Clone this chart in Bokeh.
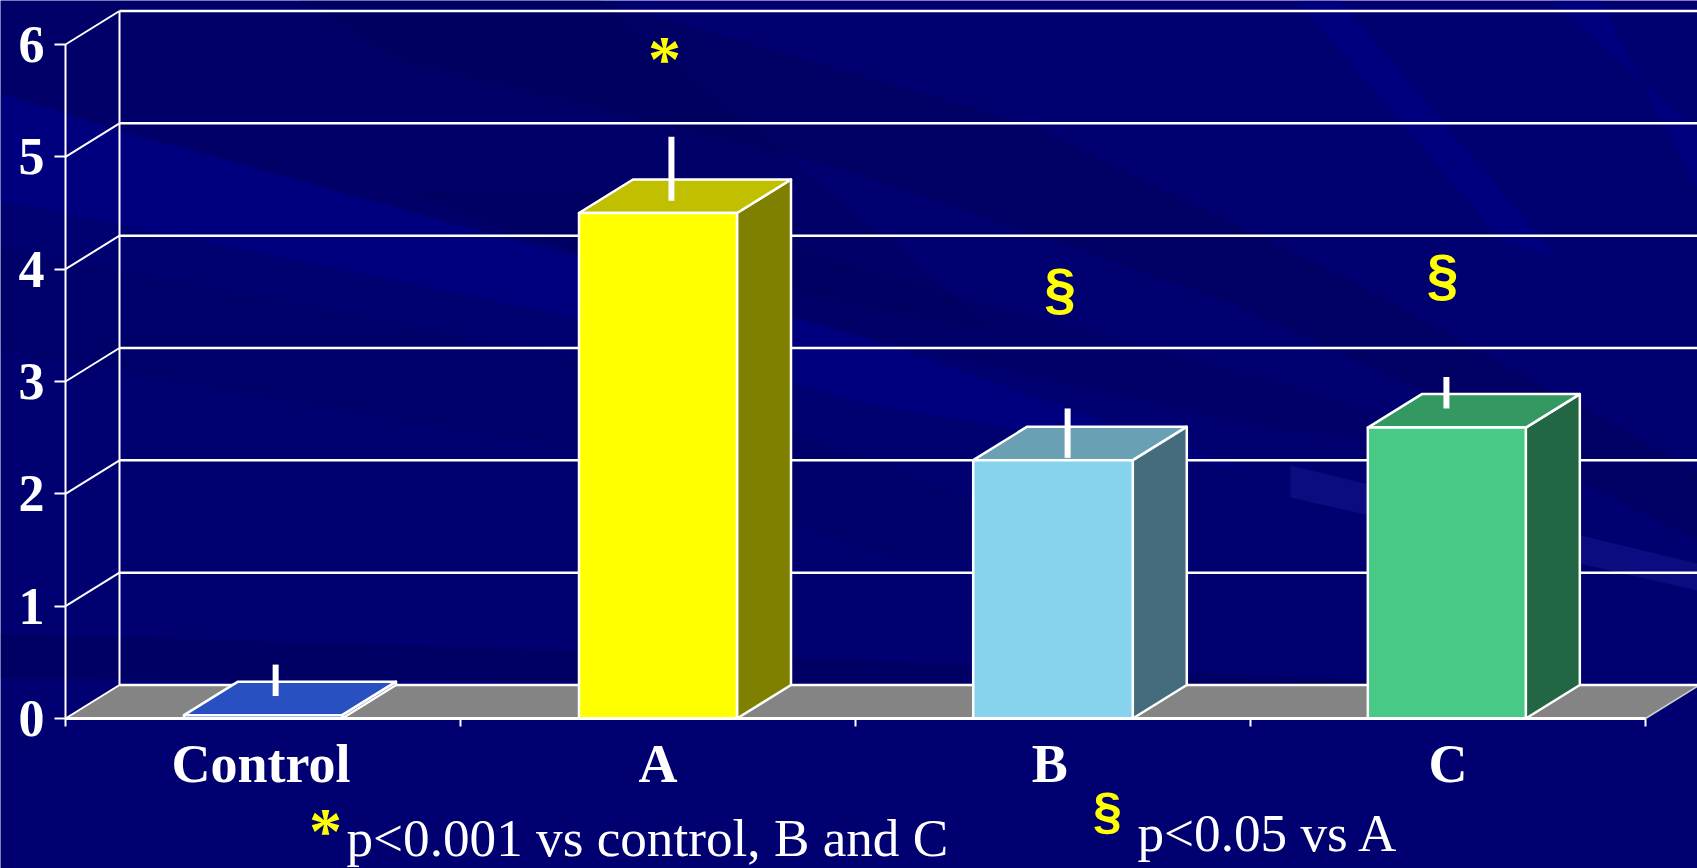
import numpy as np
from bokeh.core.properties import value
from bokeh.embed import file_html
from bokeh.models import ColumnDataSource, FixedTicker, LinearAxis, Range1d
from bokeh.plotting import figure
from bokeh.resources import INLINE

# ---- chart data
categories = ["Control", "A", "B", "C"]
means = [0.03, 4.50, 2.30, 2.59]
err_low = [0.20, 4.61, 2.32, 2.76]
err_high = [0.48, 5.18, 2.76, 3.04]
y_ticks = [0, 1, 2, 3, 4, 5, 6]
front_colors = ["#3366FF", "#FFFF00", "#87D3EE", "#48CA86"]
top_colors = ["#2850C0", "#C0C000", "#69A0B3", "#349863"]
side_colors = ["#1A3380", "#808000", "#456C7C", "#226644"]
note_main = "p<0.001 vs control, B and C"
note_second = "p<0.05 vs A"

# ---- layout
W, H = 1697, 868
X0, Y0 = 65.0, 718.0        # pixel of origin
UX, UY = 395.0, 112.33      # pixels per category / per value
DX, DY = 54 / UX, 33.5 / UY  # 3-D depth in data units
bar_width = [0.40, 0.40, 0.404, 0.40]
bar_center = [0.5, 1.5, 2.5, 3.497]
label_pos = [0.495, 1.5, 2.492, 3.5]
err_x = [0.532, 1.534, 2.537, 3.496]

p = figure(width=W, height=H, output_backend="svg", toolbar_location=None,
           x_axis_type=None, y_axis_type=None,
           x_range=Range1d(-X0 / UX, (W - X0) / UX),
           y_range=Range1d((Y0 - H) / UY, Y0 / UY),
           min_border=0, outline_line_color=None,
           background_fill_color="#000070", border_fill_color="#000070")
p.styles = {"position": "fixed", "left": "0px", "top": "0px"}
p.extra_x_ranges = {"px": Range1d(0, W)}
p.extra_y_ranges = {"px": Range1d(H, 0)}

# ---- slide background (decoration, in page pixels)
nx, ny = 170, 87
gx, gy = np.meshgrid(np.linspace(0, 1, nx), np.linspace(0, 1, ny))
blue = (0x62 * (1 - gx) * (1 - gy) + 0x88 * gx * (1 - gy)
        + 0x82 * (1 - gx) * gy + 0x9A * gx * gy)
img = np.zeros((ny, nx), dtype=np.uint32)
img[:] = (255 << 24) | (blue.astype(np.uint32) << 16)
p.image_rgba(image=[img[::-1]], x=-10, y=H + 10, dw=W + 20, dh=H + 20,
             x_range_name="px", y_range_name="px")

dark = "#00004A"
bright = "#0000A8"
pale = "#3030B0"
bands = [
    ([0, 600, 1000, 488, 119, 0], [0, 0, 333, 233, 130, 93], dark, 0.18),
    ([0, 119, 488, 850, 1250, 850, 575, 0], [93, 130, 233, 333, 470, 400, 317, 200], bright, 0.28),
    ([0, 575, 900, 1100, 900, 579, 0], [247, 357, 470, 560, 560, 450, 350], dark, 0.15),
    ([600, 1026, 1350, 1697, 1697, 1560, 1443, 1226, 847, 400, 300],
     [0, 123, 280, 470, 540, 470, 400, 300, 170, 60, 0], dark, 0.28),
    ([600, 847, 1010, 1280, 1500, 1280, 1064, 847, 600, 400],
     [190, 263, 310, 383, 450, 430, 383, 333, 260, 190], dark, 0.20),
    ([1297, 1340, 1560, 1500], [0, 0, 260, 240], bright, 0.25),
    ([1551, 1600, 1697, 1697], [0, 0, 190, 130], bright, 0.25),
    ([1290, 1697, 1697, 1290], [465, 563, 590, 497], pale, 0.25),
    ([0, 575, 1000, 1400, 1400, 0], [633, 650, 665, 680, 684, 678], dark, 0.30),
]
for xs, ys, col, a in bands:
    p.patch(xs, ys, fill_color=col, fill_alpha=a, line_color=None,
            x_range_name="px", y_range_name="px")

WHITE = "#FFFFFF"

# ---- floor and back wall
p.patch([0, 4, 4 + DX, DX], [0, 0, DY, DY], fill_color="#848484", line_color=None)
p.segment([4], [0], [4 + DX], [DY], line_color="#D0D0D0", line_width=1.5)
p.segment([DX] * len(y_ticks), [v + DY for v in y_ticks],
          [(W - X0) / UX] * len(y_ticks), [v + DY for v in y_ticks],
          line_color=WHITE, line_width=2.5)
p.segment([0] * len(y_ticks), y_ticks, [DX] * len(y_ticks), [v + DY for v in y_ticks],
          line_color=WHITE, line_width=2)
p.segment([DX], [DY], [DX], [6 + DY], line_color=WHITE, line_width=2)

# ---- 3-D bars
for c, w, v, fc, tc, sc in zip(bar_center, bar_width, means, front_colors, top_colors, side_colors):
    l, r = c - w / 2, c + w / 2
    p.patch([r, r + DX, r + DX, r], [0, DY, v + DY, v], fill_color=sc,
            line_color=WHITE, line_width=2.5, line_join="round")
    p.patch([l, r, r + DX, l + DX], [v, v, v + DY, v + DY], fill_color=tc,
            line_color=WHITE, line_width=2.5, line_join="round")
    p.patch([l, r, r, l], [0, 0, v, v], fill_color=fc,
            line_color=WHITE, line_width=2.5, line_join="round")

# ---- error bars
p.segment(err_x, err_low, err_x, err_high, line_color=WHITE, line_width=6)

# ---- axes
ya = LinearAxis(fixed_location=0, ticker=FixedTicker(ticks=y_ticks), bounds=(0, 6))
ya.axis_line_color = WHITE
ya.axis_line_width = 2
ya.major_tick_line_color = WHITE
ya.major_tick_line_width = 2
ya.major_tick_out = 11
ya.major_tick_in = 0
ya.minor_tick_line_color = None
ya.major_label_standoff = 10
ya.major_label_text_color = WHITE
ya.major_label_text_font = "Liberation Serif"
ya.major_label_text_font_style = "bold"
ya.major_label_text_font_size = "52px"
p.add_layout(ya, "left")

xa = LinearAxis(fixed_location=0, bounds=(0, 4),
                ticker=FixedTicker(ticks=label_pos, minor_ticks=[0, 1, 2, 3, 4]),
                major_label_overrides={c: n for c, n in zip(label_pos, categories)})
xa.axis_line_color = WHITE
xa.axis_line_width = 3
xa.major_tick_line_color = None
xa.major_tick_out = 0
xa.major_tick_in = 0
xa.minor_tick_line_color = WHITE
xa.minor_tick_line_width = 2
xa.minor_tick_out = 8
xa.minor_tick_in = 0
xa.major_label_standoff = 7
xa.major_label_text_color = WHITE
xa.major_label_text_font = "Liberation Serif"
xa.major_label_text_font_style = "bold"
xa.major_label_text_font_size = "54px"
p.add_layout(xa, "below")

# ---- significance marks and footnotes (page pixels)
def txt(x, y, s, size, color, font, style="normal", align="left"):
    p.text([x], [y - 0.36 * size], text=[s], text_font=value(font), text_font_style=style,
           text_font_size=f"{size}px", text_color=color, text_align=align,
           text_baseline="alphabetic", x_range_name="px", y_range_name="px")

YEL = "#FFFF00"
txt(664, 82, "*", 66, YEL, "Liberation Serif", "bold", "center")
txt(325, 854, "*", 66, YEL, "Liberation Serif", "bold", "center")
txt(1059.5, 309, "§", 57, YEL, "Liberation Sans", "bold", "center")
txt(1442, 295, "§", 57, YEL, "Liberation Sans", "bold", "center")
txt(1107, 829, "§", 52, YEL, "Liberation Sans", "bold", "center")
txt(346, 857, note_main, 53.2, WHITE, "Liberation Serif")
txt(1137, 852, note_second, 53.2, WHITE, "Liberation Serif")

open("out.html", "w").write(file_html(p, INLINE))
